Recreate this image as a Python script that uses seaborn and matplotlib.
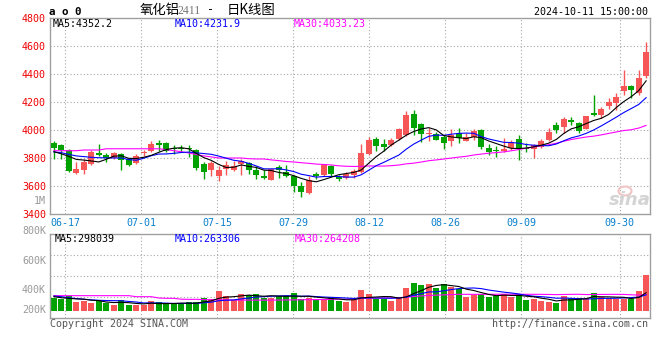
import numpy as np
import pandas as pd
import seaborn as sns
import matplotlib
matplotlib.use('Agg')
import matplotlib.pyplot as plt
from matplotlib.patches import Ellipse
from matplotlib.transforms import IdentityTransform, offset_copy, blended_transform_factory

# trading days shown (06-13 .. 10-11, exchange holidays removed)
holidays = ['2024-09-16', '2024-09-17', '2024-10-01', '2024-10-02',
            '2024-10-03', '2024-10-04', '2024-10-07']
days = pd.bdate_range('2024-06-13', '2024-10-11')
days = days[~days.isin(pd.to_datetime(holidays))]

opens = [3909, 3890, 3855, 3693, 3717, 3760, 3838, 3824, 3800, 3831,
         3795, 3767, 3833, 3848, 3910, 3910, 3868, 3869, 3871, 3857,
         3757, 3717, 3669, 3724, 3717, 3757, 3764, 3712, 3669, 3645,
         3738, 3698, 3674, 3598, 3550, 3688, 3681, 3740, 3664, 3657,
         3681, 3700, 3829, 3938, 3902, 3895, 3938, 3962, 4117, 4043,
         3971, 3971, 3948, 3924, 3976, 3924, 3952, 4000, 3874, 3860,
         3852, 3869, 3933, 3869, 3862, 3881, 3929, 4036, 4024, 4071,
         4048, 4007, 4124, 4107, 4171, 4195, 4279, 4314, 4262, 4388]
highs = [3924, 3900, 3864, 3769, 3795, 3860, 3902, 3833, 3840, 3838,
         3800, 3828, 3860, 3924, 3926, 3917, 3890, 3890, 3893, 3862,
         3769, 3776, 3740, 3781, 3776, 3793, 3769, 3740, 3717, 3726,
         3752, 3748, 3681, 3629, 3674, 3702, 3757, 3752, 3681, 3700,
         3719, 3900, 3948, 3948, 3938, 3943, 4014, 4133, 4145, 4050,
         4014, 3986, 3964, 4007, 4012, 3976, 4010, 4005, 3898, 3886,
         3940, 3929, 3964, 3905, 3898, 3933, 4017, 4060, 4090, 4090,
         4060, 4100, 4250, 4167, 4226, 4262, 4429, 4321, 4429, 4631]
lows = [3795, 3793, 3700, 3686, 3688, 3752, 3817, 3769, 3790, 3712,
        3741, 3760, 3817, 3843, 3848, 3840, 3829, 3840, 3810, 3714,
        3652, 3669, 3633, 3681, 3705, 3681, 3686, 3652, 3650, 3640,
        3657, 3664, 3555, 3521, 3545, 3650, 3669, 3669, 3638, 3650,
        3657, 3693, 3824, 3852, 3852, 3888, 3929, 3955, 3967, 3914,
        3919, 3926, 3867, 3886, 3910, 3919, 3929, 3862, 3821, 3810,
        3845, 3857, 3786, 3845, 3798, 3874, 3924, 3981, 3976, 4036,
        3976, 4005, 4100, 4083, 4148, 4143, 4250, 4226, 4250, 4369]
closes = [3871, 3860, 3705, 3721, 3769, 3840, 3824, 3800, 3833, 3783,
          3748, 3817, 3845, 3902, 3890, 3848, 3865, 3862, 3862, 3729,
          3698, 3764, 3717, 3752, 3740, 3779, 3712, 3681, 3655, 3724,
          3712, 3674, 3602, 3560, 3645, 3669, 3752, 3688, 3650, 3686,
          3710, 3838, 3931, 3883, 3881, 3931, 4010, 4110, 4014, 3971,
          3979, 3929, 3910, 3964, 3940, 3952, 3993, 3876, 3845, 3850,
          3862, 3912, 3869, 3862, 3893, 3921, 3985, 4000, 4076, 4060,
          3995, 4100, 4110, 4152, 4201, 4238, 4314, 4286, 4369, 4554]
volumes = [215000, 193000, 243000, 144000, 160000, 127000, 160000, 127000, 99000, 177000,
           99000, 99000, 88000, 160000, 138000, 105000, 105000, 121000, 144000, 144000,
           210000, 193000, 331000, 248000, 177000, 276000, 259000, 276000, 210000, 215000,
           248000, 243000, 293000, 193000, 215000, 182000, 188000, 226000, 160000, 149000,
           177000, 342000, 276000, 188000, 188000, 166000, 221000, 381000, 464000, 425000,
           450000, 370000, 446180, 385000, 353000, 232000, 254000, 276000, 232000, 248000,
           276000, 232000, 276000, 170000, 199000, 160000, 144000, 132000, 248000, 210000,
           210000, 199000, 300000, 234000, 199865, 188000, 188000, 193000, 331000, 590195]

# moving averages before enough history is on screen
ma5_head = [3845, 3830, 3812, 3790]
ma10_head = [3843, 3838, 3826, 3815, 3810, 3805, 3802, 3801, 3800]
ma30_head = [3852, 3852, 3852, 3852, 3857, 3857, 3857, 3866, 3866, 3866,
             3866, 3866, 3866, 3866, 3866, 3860, 3852, 3845, 3836, 3825,
             3815, 3808, 3800, 3800, 3800, 3800, 3795, 3793, 3793]
vma5_head = [232000, 215000, 205000, 195000]
vma10_head = [243000, 232000, 215000, 200000, 190000, 180000, 172000, 168000, 166000]
vma30_head = [249000, 249000, 249000, 249000, 249000, 249000, 249000, 249000, 249000, 249000,
              249000, 232000, 232000, 232000, 210000, 205000, 205000, 190000, 188000, 188000,
              185000, 180000, 180000, 178000, 176000, 175000, 175000, 175000, 175000]

tick_days = ['06-17', '07-01', '07-15', '07-29', '08-12', '08-26', '09-09', '09-30']
price_ticks = [3400, 3600, 3800, 4000, 4200, 4400, 4600, 4800]
vol_labels = ['800K', '600K', '400K', '200K']

RED = '#f65656'
GREEN = '#00a200'
GRID = '#a8a8a8'
FRAME = '#a0a0a0'


def with_head(series, n, head):
    m = series.rolling(n).mean()
    m.iloc[:len(head)] = head
    return m


df = pd.DataFrame({'x': np.arange(len(days)), 'open': opens, 'high': highs,
                   'low': lows, 'close': closes, 'vol': volumes})
df['ma5'] = with_head(df['close'], 5, ma5_head)
df['ma10'] = with_head(df['close'], 10, ma10_head)
df['ma30'] = with_head(df['close'], 30, ma30_head)
df['vma5'] = with_head(df['vol'], 5, vma5_head)
df['vma10'] = with_head(df['vol'], 10, vma10_head)
df['vma30'] = with_head(df['vol'], 30, vma30_head)
colors = np.where(df['close'] >= df['open'], RED, GREEN)

sns.set_style('white')
plt.rcParams['font.family'] = ['DejaVu Sans Mono']
MONO = 7.2

W, H = 660, 360
fig = plt.figure(figsize=(W / 100, H / 100), dpi=100)


def box(x0, y0, x1, y1):
    return [x0 / W, 1 - y1 / H, (x1 - x0) / W, (y1 - y0) / H]


def ftext(x, y, s, **kw):
    kw.setdefault('fontsize', MONO)
    kw.setdefault('va', 'center')
    fig.text(x / W, 1 - y / H, s, **kw)


ax = fig.add_axes(box(50, 18, 650, 214))
axv = fig.add_axes(box(50, 234.3, 650, 318.3))

# gridlines in Sina's slot layout
day_str = [d.strftime('%m-%d') for d in days]
n = len(days)
grid_x = [day_str.index(t) * n / (n - 1) - 0.5 for t in tick_days]
for a in (ax, axv):
    for gx in grid_x:
        a.axvline(gx, color=GRID, lw=0.8, ls=(0, (1, 2)), zorder=0)
for yv in price_ticks[1:-1]:
    ax.axhline(yv, color=GRID, lw=0.8, ls=(0, (1, 2)), zorder=0)
for f in (0.25, 0.5, 0.75):
    axv.plot([0, 1], [f, f], transform=axv.transAxes, color=GRID, lw=0.8,
             ls=(0, (1, 2)), zorder=0)

# candles
ax.vlines(df['x'], df['low'], df['high'], colors=colors, lw=1.0, zorder=2)
body_low = np.minimum(df['open'], df['close'])
body_h = np.maximum(np.abs(df['close'] - df['open']), 6)
ax.bar(df['x'], body_h, bottom=body_low, width=0.8, color=colors, lw=0, zorder=3)

sns.lineplot(data=df, x='x', y='ma30', ax=ax, color='#ff00ff', lw=0.8, zorder=4)
sns.lineplot(data=df, x='x', y='ma10', ax=ax, color='#0000ff', lw=0.8, zorder=4)
sns.lineplot(data=df, x='x', y='ma5', ax=ax, color='black', lw=0.8, zorder=4)

# volume
axv.bar(df['x'], df['vol'], width=0.8, color=colors, lw=0, zorder=2)
sns.lineplot(data=df, x='x', y='vma30', ax=axv, color='#ff00ff', lw=0.8, zorder=4)
sns.lineplot(data=df, x='x', y='vma10', ax=axv, color='#0000ff', lw=0.8, zorder=4)
sns.lineplot(data=df, x='x', y='vma5', ax=axv, color='black', lw=0.8, zorder=4)

ax.set_xlim(-0.5, n - 0.5)
axv.set_xlim(-0.5, n - 0.5)
ax.set_ylim(3400, 4800)
axv.set_ylim(-126000, 1265000)

for a in (ax, axv):
    a.set_xlabel('')
    a.set_ylabel('')
    for s in a.spines.values():
        s.set_color(FRAME)
        s.set_linewidth(1.0)

ax.set_yticks(price_ticks)
ax.set_yticklabels([str(p) for p in price_ticks])
ax.tick_params(axis='y', length=0, pad=3, labelsize=MONO, labelcolor='#ee0000')
ax.set_xticks(grid_x)
ax.set_xticklabels(tick_days)
ax.tick_params(axis='x', length=0, pad=3, labelsize=MONO, labelcolor='#0a80cc')

axv.set_xticks([])
axv.set_yticks([])
lab_tr = offset_copy(axv.transAxes, fig=fig, x=-4, y=0, units='dots')
for lab, f in zip(vol_labels, [1.043, 0.682, 0.337, 0.099]):
    axv.text(0, f, lab, transform=lab_tr, ha='right', va='center',
             fontsize=MONO, color='#999999')
m_tr = offset_copy(blended_transform_factory(ax.transAxes, ax.transData),
                   fig=fig, x=-4, y=0, units='dots')
ax.text(0, 3495, '1M', transform=m_tr, ha='right', va='center',
        fontsize=MONO, color='#999999')


def fmt(v):
    return f'{v:.2f}'.rstrip('0').rstrip('.')


last = df.iloc[-1]
ftext(53, 24, f"MA5:{fmt(last['ma5'])}", color='black')
ftext(175, 24, f"MA10:{fmt(last['ma10'])}", color='#0000ff')
ftext(294, 24, f"MA30:{fmt(last['ma30'])}", color='#ff00ff')
ftext(55, 238.5, f"MA5:{int(round(last['vma5']))}", color='black')
ftext(175, 238.5, f"MA10:{int(round(last['vma10']))}", color='#0000ff')
ftext(295, 238.5, f"MA30:{int(round(last['vma30']))}", color='#ff00ff')

# header
ftext(49, 12, 'a o 0', fontsize=7.8, fontweight='bold', color='black')
cjk = ['Noto Sans CJK SC', 'DejaVu Sans']
ftext(140, 10, '氧化铝', fontsize=9.6, family=cjk, color='black')
ftext(178, 11, '2411', fontsize=8.6, family='Liberation Serif', color='#777777')
ftext(207, 10, '-', fontsize=8.5, color='black')
ftext(227, 10, '日K线图', fontsize=9.6, family=cjk, color='black')
ftext(648, 12, '2024-10-11 15:00:00', ha='right', color='black')

# footer
ftext(50, 324, 'Copyright 2024 SINA.COM', color='#555555')
ftext(648, 324, 'http://finance.sina.com.cn', ha='right', color='#555555')

# watermark
fig.add_artist(Ellipse((625, H - 191), 13, 9, transform=IdentityTransform(),
                       fill=False, edgecolor='#f2c4c4', lw=1.5))
ftext(651, 200, 'sina', ha='right', fontsize=13, family='DejaVu Sans',
      fontstyle='italic', fontweight='bold', color='#d4d4d4')

fig.savefig('out.png', dpi=100)
